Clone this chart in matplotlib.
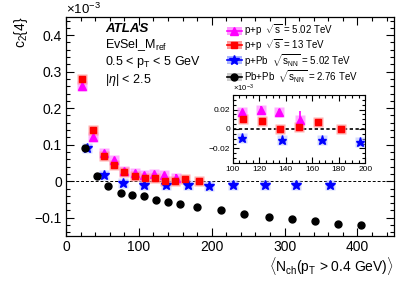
import numpy as np
import matplotlib.pyplot as plt
from matplotlib.ticker import MultipleLocator
from matplotlib.patches import Rectangle

plt.rcParams['font.family'] = ['Liberation Sans', 'DejaVu Sans']
plt.rcParams['mathtext.fontset'] = 'custom'
plt.rcParams['mathtext.rm'] = 'Liberation Sans'
plt.rcParams['mathtext.it'] = 'Liberation Sans:italic'
plt.rcParams['mathtext.bf'] = 'Liberation Sans:bold'

# c2{4} values in units of 1e-3
pp5_x = [22, 37, 52, 66, 80, 94.5, 107, 121, 135, 151]
pp5_y = [0.260, 0.120, 0.078, 0.058, 0.027, 0.023, 0.017, 0.020, 0.017, 0.009]
pp5_err = [0.008, 0.006, 0.004, 0.003, 0.003, 0.003, 0.003, 0.004, 0.004, 0.010]

pp13_x = [22, 37, 52, 66, 80, 94.5, 108, 122, 136, 150, 164, 182]
pp13_y = [0.279, 0.140, 0.070, 0.045, 0.025, 0.014, 0.010, 0.0087, 0.000, 0.0017, 0.0069, 0.000]
pp13_err = [0.004, 0.003, 0.002, 0.002, 0.002, 0.002, 0.002, 0.002, 0.002, 0.002, 0.002, 0.003]

ppb_x = [29, 52, 78.5, 107, 137, 167, 196, 229, 273, 316, 362]
ppb_y = [0.092, 0.017, -0.004, -0.0094, -0.0115, -0.0115, -0.0132, -0.011, -0.011, -0.009, -0.009]

pbpb_x = [26, 42, 58, 75, 91, 107, 124, 140, 157, 180, 213, 245, 278, 310, 342, 373, 405]
pbpb_y = [0.092, 0.014, -0.013, -0.032, -0.037, -0.041, -0.050, -0.058, -0.062, -0.071,
          -0.079, -0.089, -0.097, -0.103, -0.110, -0.116, -0.121]

labels = [r'p+p  $\sqrt{\rm s}$ = 5.02 TeV',
          r'p+p  $\sqrt{\rm s}$ = 13 TeV',
          r'p+Pb  $\sqrt{\rm s_{NN}}$ = 5.02 TeV',
          r'Pb+Pb  $\sqrt{\rm s_{NN}}$ = 2.76 TeV']

MAG = '#ff00ff'
RED = '#ff0000'
BLUE = '#0000ff'
styles = [('^', MAG, '#ff99ff', 5.5), ('s', RED, '#ff9999', 5), ('*', BLUE, '#aab4ff', 7),
          ('o', 'black', '#cccccc', 5)]


def draw(ax, ms=1.0):
    ax.plot(pp5_x, pp5_y, 's', color='#ff99ff', ms=7.5 * ms, mec='none', alpha=0.8)
    ax.plot(pp13_x, pp13_y, 's', color='#ff9999', ms=7.5 * ms, mec='none', alpha=0.8)
    ax.plot(ppb_x, ppb_y, 's', color='#aab4ff', ms=7 * ms, mec='none', alpha=0.5)
    ax.errorbar(pp5_x, pp5_y, yerr=pp5_err, fmt='^', color=MAG, ms=5.5 * ms, lw=1.2)
    ax.errorbar(pp13_x, pp13_y, yerr=pp13_err, fmt='s', color=RED, ms=5 * ms, lw=1.2)
    ax.plot(ppb_x, ppb_y, '*', color=BLUE, ms=7 * ms, mec=BLUE)
    ax.plot(pbpb_x, pbpb_y, 'o', color='black', ms=5 * ms)


def root_ticks(ax, major_len, minor_len):
    ax.tick_params(which='both', direction='in', top=True, right=True)
    ax.tick_params(which='major', length=major_len, width=0.8)
    ax.tick_params(which='minor', length=minor_len, width=0.8)


fig = plt.figure(figsize=(4.15, 2.81), dpi=100)
ax = fig.add_axes([0.159, 0.160, 0.790, 0.780])

draw(ax)
ax.axhline(0, color='black', lw=0.7, ls=(0, (3, 2)), zorder=0)
ax.set_xlim(0, 450)
ax.set_ylim(-0.15, 0.45)
ax.xaxis.set_minor_locator(MultipleLocator(20))
ax.yaxis.set_minor_locator(MultipleLocator(0.02))
ax.set_xticks([0, 100, 200, 300, 400])
ax.set_xticklabels(['0', '100', '200', '300', '400'])
ax.set_yticks([-0.1, 0, 0.1, 0.2, 0.3, 0.4])
ax.set_yticklabels(['\u22120.1', '0', '0.1', '0.2', '0.3', '0.4'])
root_ticks(ax, 6, 3)
ax.tick_params(labelsize=10, pad=3)
for s in ax.spines.values():
    s.set_linewidth(0.9)

fig.text(0.159, 0.965, r'$\times$10$^{-3}$', fontsize=9.5, ha='left', va='center')
fig.text(0.05, 0.94, r'c$_2${4}', fontsize=10, rotation=90, ha='center', va='top')
fig.text(0.949, 0.055, r'$\langle$N$_{\rm ch}$(p$_{\rm T}$ > 0.4 GeV)$\rangle$',
         fontsize=10, ha='right', va='center')

fig.text(0.253, 0.897, 'ATLAS', fontsize=9.5, fontweight='bold', fontstyle='italic',
         ha='left', va='center')
fig.text(0.253, 0.840, r'EvSel_M$_{\rm ref}$', fontsize=9, ha='left', va='center')
fig.text(0.253, 0.778, r'0.5 < p$_{\rm T}$ < 5 GeV', fontsize=9, ha='left', va='center')
fig.text(0.253, 0.716, r'|$\eta$| < 2.5', fontsize=9, ha='left', va='center')

# legend drawn row by row (ROOT style: shaded box + marker with line)
rows_y = [0.891, 0.839, 0.785, 0.727]
for (mk, col, boxcol, size), lab, yy in zip(styles, labels, rows_y):
    fig.patches.append(Rectangle((0.547, yy - 0.014), 0.036, 0.028, color=boxcol, lw=0,
                                 transform=fig.transFigure))
    fig.lines.append(plt.Line2D([0.547, 0.583], [yy, yy], color=col, lw=1.2,
                                transform=fig.transFigure))
    fig.lines.append(plt.Line2D([0.565], [yy], marker=mk, color=col, ms=size, mec=col,
                                transform=fig.transFigure))
    fig.text(0.588, yy, lab, fontsize=7.0, ha='left', va='center')

# inset zoom 100-200
ins = fig.add_axes([0.561, 0.420, 0.319, 0.242])
draw(ins, ms=0.95)
ins.axhline(0, color='black', lw=1.2, ls=(0, (2, 1.5)), zorder=0)
ins.set_xlim(100, 200)
ins.set_ylim(-0.035, 0.035)
ins.xaxis.set_major_locator(MultipleLocator(20))
ins.xaxis.set_minor_locator(MultipleLocator(5))
ins.yaxis.set_minor_locator(MultipleLocator(0.005))
ins.set_yticks([-0.02, 0, 0.02])
ins.set_yticklabels(['\u22120.02', '0', '0.02'])
root_ticks(ins, 4, 2)
ins.tick_params(labelsize=6, pad=2)
fig.text(0.561, 0.664, r'$\times$10$^{-3}$', fontsize=5.5, ha='left', va='bottom')

fig.savefig('out.png', dpi=100)
